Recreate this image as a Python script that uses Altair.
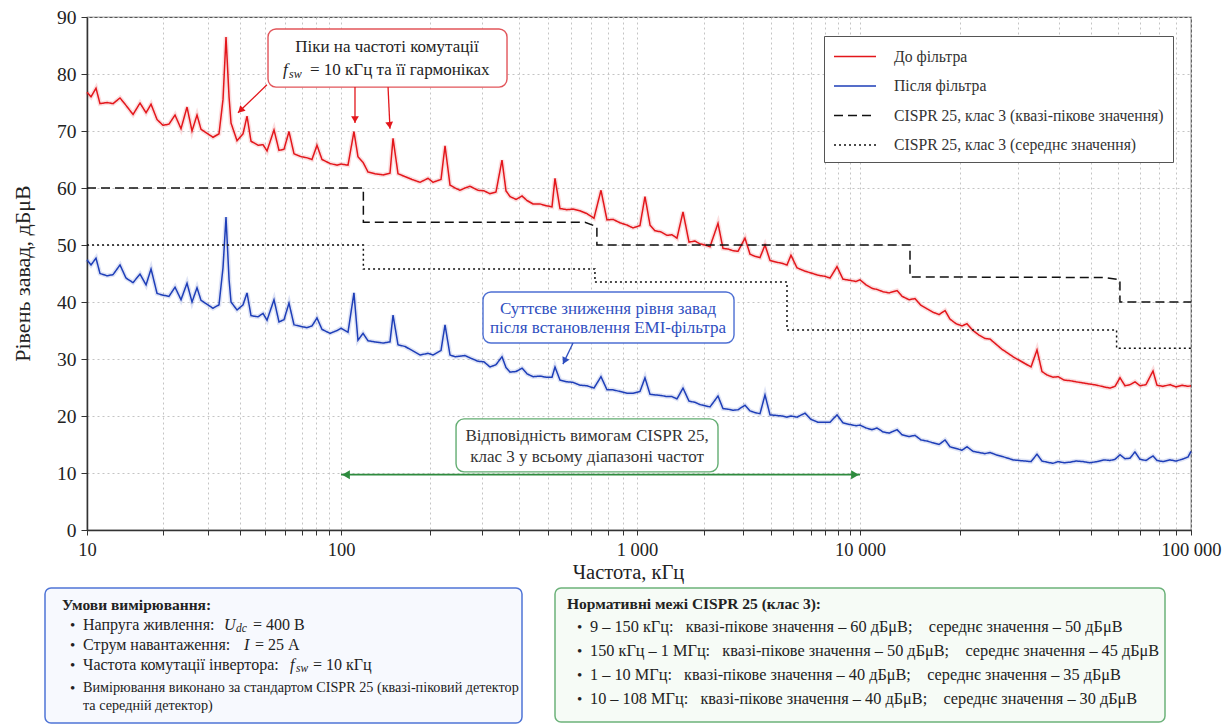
import math
import json
import altair as alt
import pandas as pd

SERIF = "Liberation Serif"

# ---------------- data ----------------
freq_khz = [
    10.0, 10.37, 10.85, 11.25, 11.99, 12.66, 13.49, 14.24, 15.18, 16.17,
    17.08, 17.87, 18.87, 19.92, 21.03, 22.21, 23.45, 24.76, 25.91, 27.11,
    28.11, 29.68, 31.34, 33.09, 34.31, 35.26, 36.24, 36.9, 38.96, 41.14,
    42.66, 44.23, 47.13, 49.32, 51.14, 54.48, 57.0, 59.65, 62.41, 65.31,
    69.57, 73.46, 76.87, 80.44, 84.18, 90.5, 96.5, 100.0, 105.6, 110.6,
    114.1, 118.7, 123.4, 130.3, 138.7, 146.4, 149.9, 155.8, 164.5, 173.8,
    184.9, 196.8, 204.6, 217.7, 224.6, 233.5, 242.8, 252.4, 262.4, 272.8,
    290.3, 304.2, 318.7, 333.9, 349.9, 360.9, 372.4, 390.2, 408.8, 425.1,
    445.4, 470.3, 492.7, 516.2, 528.4, 549.3, 580.0, 607.7, 641.7, 677.6,
    715.5, 755.7, 791.7, 829.6, 876.1, 925.1, 969.3, 1031, 1086, 1144,
    1204, 1281, 1363, 1435, 1511, 1608, 1711, 1820, 1916, 2018,
    2125, 2308, 2430, 2559, 2695, 2838, 3050, 3212, 3382, 3561,
    3750, 3949, 4200, 4469, 4706, 4904, 5218, 5667, 6030, 6480,
    6966, 7337, 7887, 8390, 9020, 9596, 10000, 10430, 10870, 11260,
    11740, 12240, 12940, 13400, 14060, 14660, 15290, 15940, 16620, 17330,
    18070, 18700, 19500, 20330, 21050, 21950, 22880, 23860, 24700, 25760,
    26850, 28000, 28990, 30230, 31510, 32860, 34260, 35460, 36730, 38300,
    39650, 41340, 43100, 44950, 47190, 49540, 52000, 54610, 56930, 58940,
    61030, 63180, 65410, 67720, 70120, 73110, 76770, 78930, 82290, 86440,
    90090, 93930, 97930, 100000,
]
before_dbuv = [
    76.8, 76.0, 77.5, 74.8, 75.0, 74.8, 75.8, 74.5, 72.9, 74.9,
    73.2, 74.7, 72.0, 71.0, 71.2, 72.8, 70.4, 74.2, 70.0, 72.8,
    70.3, 69.6, 68.9, 69.5, 75.5, 86.5, 76.0, 71.4, 68.3, 69.5,
    72.6, 68.2, 67.5, 67.6, 66.5, 70.2, 66.6, 66.8, 69.9, 66.0,
    65.5, 65.3, 65.0, 67.5, 65.0, 64.3, 64.0, 64.2, 64.0, 69.9,
    65.5, 64.5, 62.8, 62.5, 62.3, 62.6, 68.7, 62.5, 62.0, 61.5,
    61.0, 61.7, 61.0, 61.5, 67.4, 60.5, 60.0, 59.6, 60.0, 60.3,
    59.6, 59.5, 59.0, 59.3, 64.9, 59.5, 58.5, 58.0, 58.6, 57.8,
    57.2, 57.2, 56.9, 56.7, 61.7, 56.4, 56.2, 56.3, 56.0, 55.5,
    54.7, 59.6, 54.4, 54.5, 53.9, 53.5, 53.0, 53.4, 58.5, 53.5,
    52.5, 52.3, 51.7, 51.8, 51.2, 55.8, 50.5, 50.7, 50.2, 50.0,
    49.7, 53.8, 49.4, 49.3, 49.0, 48.9, 51.2, 48.4, 48.0, 47.8,
    50.0, 47.3, 47.0, 46.8, 46.5, 48.2, 46.0, 45.4, 45.1, 44.7,
    44.5, 44.2, 46.2, 44.0, 43.8, 43.6, 43.9, 43.0, 42.4, 42.2,
    41.8, 41.6, 42.0, 41.0, 40.4, 40.6, 39.4, 38.8, 38.2, 37.8,
    38.5, 37.0, 36.2, 35.8, 36.2, 35.0, 34.2, 33.6, 33.5, 32.6,
    31.7, 31.0, 30.4, 29.8, 29.2, 28.6, 31.6, 27.8, 27.2, 26.8,
    26.9, 26.3, 26.2, 26.0, 25.8, 25.6, 25.4, 25.1, 24.9, 25.2,
    26.7, 25.3, 25.5, 26.0, 25.3, 25.5, 27.9, 25.4, 25.2, 25.5,
    25.1, 25.4, 25.2, 25.3,
]
after_dbuv = [
    47.4, 46.5, 47.7, 45.0, 44.6, 44.8, 46.5, 44.2, 43.4, 44.9,
    43.0, 45.8, 41.5, 41.2, 41.0, 42.6, 40.4, 43.3, 40.0, 42.5,
    40.3, 39.6, 38.9, 39.5, 46.0, 54.9, 44.0, 40.0, 38.6, 39.5,
    41.6, 37.6, 37.4, 38.0, 36.8, 40.4, 36.5, 36.9, 39.8, 36.0,
    35.7, 35.5, 35.8, 37.2, 35.2, 34.5, 35.0, 35.4, 34.7, 41.6,
    33.3, 34.5, 33.2, 33.0, 32.8, 33.0, 37.7, 32.5, 32.2, 31.5,
    30.7, 31.0, 30.7, 31.5, 36.0, 30.7, 30.4, 30.5, 30.6, 30.2,
    29.6, 29.5, 28.6, 29.0, 30.4, 28.5, 27.7, 27.8, 28.4, 27.4,
    26.9, 27.0, 26.8, 26.8, 28.6, 26.3, 26.0, 25.9, 25.4, 25.3,
    24.9, 26.9, 24.6, 24.6, 24.3, 24.0, 24.0, 24.3, 26.7, 23.8,
    23.7, 23.6, 23.4, 23.4, 23.0, 24.9, 22.6, 22.4, 22.0, 21.8,
    21.6, 23.5, 21.3, 21.2, 21.0, 21.1, 21.9, 20.9, 20.6, 20.4,
    23.7, 20.2, 20.1, 20.0, 19.8, 20.0, 19.8, 20.5, 19.4, 18.9,
    18.9, 18.9, 20.2, 18.8, 18.5, 18.3, 18.4, 17.9, 17.6, 17.9,
    17.2, 17.0, 17.6, 16.7, 16.4, 16.6, 15.8, 15.6, 15.3, 15.0,
    15.8, 14.6, 14.3, 14.0, 14.6, 13.8, 13.6, 13.4, 13.6, 13.2,
    12.9, 12.6, 12.3, 12.2, 12.1, 12.0, 13.3, 12.1, 11.9, 11.7,
    12.0, 11.8, 11.9, 12.1, 12.0, 11.8, 12.0, 12.3, 12.2, 12.4,
    13.2, 12.5, 12.6, 13.7, 12.4, 12.2, 13.0, 12.2, 12.0, 12.3,
    12.1, 12.4, 12.8, 13.8,
]
qp_freq = [10, 119, 119, 667, 732, 732, 14160, 14160, 55000, 61000, 61000, 100000]
qp_level = [60, 60, 54, 54, 53.2, 50, 50, 44.4, 44.3, 43.9, 40, 40]
avg_freq = [10, 119, 119, 721, 721, 4706, 4706, 59600, 59600, 100000]
avg_level = [50, 50, 45.8, 45.8, 43.5, 43.5, 35.1, 35.1, 31.9, 31.9]

series_names = [
    "До фільтра",
    "Після фільтра",
    "CISPR 25, клас 3 (квазі-пікове значення)",
    "CISPR 25, клас 3 (середнє значення)",
]
tick_labels = ["10", "100", "1 000", "10 000", "100 000"]
y_ticks = [0, 10, 20, 30, 40, 50, 60, 70, 80, 90]

cond_title = "Умови вимірювання:"
cond_items = ["Напруга живлення:", "Струм навантаження:", "Частота комутації інвертора:"]
cond_math = [("U", "dc", "= 400 В"), ("I", "", "= 25 А"), ("f", "sw", "= 10 кГц")]
cond_note = ["Вимірювання виконано за стандартом CISPR 25 (квазі-піковий детектор",
             "та середній детектор)"]
lim_title = "Нормативні межі CISPR 25 (клас 3):"
lim_ranges = ["9 – 150 кГц", "150 кГц – 1 МГц", "1 – 10 МГц", "10 – 108 МГц"]
lim_qp = [60, 50, 40, 40]
lim_avg = [50, 45, 35, 30]

assert len(freq_khz) == len(before_dbuv) == len(after_dbuv)

# ---------------- styles ----------------
RED = "#e3161b"
BLUE = "#1e3eb8"
GREEN = "#2e8b3e"
series_colors = [RED, BLUE, "#111111", "#111111"]
series_dash = [[1, 0], [1, 0], [9, 5], [2, 3]]
series_width = [1.5, 1.5, 2.6, 2.1]

rows = []
for name, fs, vs in [(series_names[0], freq_khz, before_dbuv),
                     (series_names[1], freq_khz, after_dbuv),
                     (series_names[2], qp_freq, qp_level),
                     (series_names[3], avg_freq, avg_level)]:
    for i, (f, v) in enumerate(zip(fs, vs)):
        rows.append({"series": name, "f": f, "v": v, "i": i})
df = pd.DataFrame(rows)

LOGF = "log(datum.f) / LN10"
xs = alt.Scale(domain=[1, 2, 3, 4, 5], range=[0, 254, 550, 773, 1104], nice=False, zero=False)
ys = alt.Scale(domain=[0, 90], nice=False, zero=False)

minor_vals = [math.log10(k * 10 ** n) for n in range(1, 5) for k in range(1, 10)] + [5.0]
label_expr = ("abs(datum.value - round(datum.value)) < 0.001 ? "
              + json.dumps(tick_labels) + "[round(datum.value) - 1] : ''")

x_axis = alt.Axis(values=minor_vals, labelExpr=label_expr, grid=True, gridDash=[2, 3],
                  gridColor="#c4c4c4", gridWidth=1, tickSize=5, tickColor="#333",
                  domainColor="#333", domainWidth=1.5, labelFont=SERIF, labelFontSize=18.5,
                  labelColor="#222", labelPadding=5, labelOverlap=False, labelFlush=False,
                  title="Частота, кГц", titleFont=SERIF, titleFontSize=20.5,
                  titleFontWeight="normal", titleColor="#222", titleX=541, titleY=42,
                  titleBaseline="middle", titleAlign="center")
y_axis = alt.Axis(values=y_ticks, grid=True, gridDash=[2, 3], gridColor="#c4c4c4",
                  tickSize=6, tickColor="#333", domainColor="#333", domainWidth=1.5,
                  labelFont=SERIF, labelFontSize=19.5, labelColor="#222", labelPadding=5,
                  title="Рівень завад, дБμВ", titleFont=SERIF, titleFontSize=22,
                  titleFontWeight="normal", titleColor="#222", titleX=-65, titleY=256,
                  titleAngle=-90, titleBaseline="middle", titleAlign="center")


def X(field):
    return alt.X(field, scale=xs, axis=x_axis)


def Y(field):
    return alt.Y(field, scale=ys, axis=y_axis)


leg = alt.Legend(title=None, orient="none", legendX=737, legendY=19, direction="vertical",
                 strokeColor="#555", fillColor="white", padding=9, symbolType="M-1,0H3",
                 symbolSize=441, symbolStrokeWidth=2.4, labelFont=SERIF, labelFontSize=15.7,
                 labelColor="#333", labelOffset=38, rowPadding=9.5, labelLimit=400)


def glow(name, color):
    return alt.Chart(df[df.series == name]).transform_calculate(lf=LOGF).mark_line(
        color=color, strokeWidth=4.5, opacity=0.14).encode(
        x=X("lf:Q"), y=Y("v:Q"), order=alt.Order("i:Q"))


main = alt.Chart(df).transform_calculate(lf=LOGF).mark_line().encode(
    x=X("lf:Q"),
    y=Y("v:Q"),
    color=alt.Color("series:N", scale=alt.Scale(domain=series_names, range=series_colors), legend=leg),
    strokeDash=alt.StrokeDash("series:N", scale=alt.Scale(domain=series_names, range=series_dash), legend=leg),
    strokeWidth=alt.StrokeWidth("series:N", scale=alt.Scale(domain=series_names, range=series_width), legend=None),
    order=alt.Order("i:Q"),
)


def box(f0, f1, v0, v1, stroke, fill="white"):
    d = pd.DataFrame({"f0": [f0], "f1": [f1], "v0": [v0], "v1": [v1]})
    return alt.Chart(d).transform_calculate(
        l0="log(datum.f0) / LN10", l1="log(datum.f1) / LN10").mark_rect(
        fill=fill, stroke=stroke, strokeWidth=1.4, cornerRadius=8).encode(
        x=X("l0:Q"), x2="l1:Q", y=Y("v0:Q"), y2="v1:Q")


def label(f, v, text, color, size=17, dx=0, dy=0, align="center", style="normal"):
    d = pd.DataFrame({"f": [f], "v": [v]})
    return alt.Chart(d).transform_calculate(lf=LOGF).mark_text(
        text=text, font=SERIF, fontSize=size, color=color, align=align, baseline="middle",
        dx=dx, dy=dy, fontStyle=style).encode(x=X("lf:Q"), y=Y("v:Q"))


def arrow(f0, v0, f1, v1, color, angle, width=1.3, size=60):
    d = pd.DataFrame({"f0": [f0], "v0": [v0], "f1": [f1], "v1": [v1]})
    base = alt.Chart(d).transform_calculate(l0="log(datum.f0) / LN10", l1="log(datum.f1) / LN10")
    rad = math.radians(angle)
    ox, oy = -3.5 * math.sin(rad), 3.5 * math.cos(rad)
    ln = base.mark_rule(color=color, strokeWidth=width).encode(
        x=X("l0:Q"), x2="l1:Q", y=Y("v0:Q"), y2="v1:Q")
    hd = base.mark_point(shape="triangle-up", filled=True, color=color, opacity=1, size=size,
                         angle=angle, xOffset=ox, yOffset=oy).encode(x=X("l1:Q"), y=Y("v1:Q"))
    return [ln, hd]


annotations = []
# red call-out
annotations.append(box(51.6, 363.8, 87.9, 77.7, "#e2555a"))
annotations.append(label(143.0, 84.7, "Піки на частоті комутації", "#222"))
annotations.append(label(143.0, 80.7, "f", "#222", dx=-104, align="left", style="italic"))
annotations.append(label(143.0, 80.7, "sw", "#222", size=12, dx=-98, dy=4, align="left", style="italic"))
annotations.append(label(143.0, 80.7, "= 10 кГц та її гармоніках", "#222", dx=-77, align="left"))
annotations += arrow(51.1, 78.1, 39.3, 73.2, RED, 226)
annotations += arrow(111.5, 77.7, 111.5, 71.4, RED, 180)
annotations += arrow(144.2, 77.7, 146.4, 70.4, RED, 173)
# blue call-out
annotations.append(box(301.8, 2723, 41.75, 32.8, "#4d6fd3"))
annotations.append(label(798, 38.8, "Суттєве зниження рівня завад", "#2f4fbf"))
annotations.append(label(798, 35.4, "після встановлення EMI-фільтра", "#2f4fbf"))
annotations += arrow(608, 32.8, 562, 29.1, "#2f4fbf", 206)
# green call-out
annotations.append(box(244.7, 2308, 19.5, 10.2, "#63ad72"))
annotations.append(label(678, 16.5, "Відповідність вимогам CISPR 25,", "#333"))
annotations.append(label(678, 12.8, "клас 3 у всьому діапазоні частот", "#333"))
g = pd.DataFrame({"f0": [100], "f1": [10000], "v": [9.7]})
gbase = alt.Chart(g).transform_calculate(l0="log(datum.f0) / LN10", l1="log(datum.f1) / LN10")
annotations.append(gbase.mark_rule(color=GREEN, strokeWidth=1.8).encode(
    x=X("l0:Q"), x2="l1:Q", y=Y("v:Q")))
annotations.append(gbase.mark_point(shape="triangle-left", filled=True, color=GREEN, opacity=1,
                                    size=80, xOffset=5).encode(x=X("l0:Q"), y=Y("v:Q")))
annotations.append(gbase.mark_point(shape="triangle-right", filled=True, color=GREEN, opacity=1,
                                    size=80, xOffset=-5).encode(x=X("l1:Q"), y=Y("v:Q")))

# ---------------- bottom info boxes (page pixels) ----------------
OX, OY = 87, 17
one = pd.DataFrame({"k": [0]})


def px_rect(x0, y0, x1, y1, stroke, fill):
    return alt.Chart(one).mark_rect(stroke=stroke, fill=fill, strokeWidth=1.5, cornerRadius=6).encode(
        x=alt.value(x0 - OX), x2=alt.value(x1 - OX), y=alt.value(y0 - OY), y2=alt.value(y1 - OY))


def px_text(x, y, text, size=16, weight="normal", style="normal", color="#222", align="left"):
    return alt.Chart(one).mark_text(text=text, font=SERIF, fontSize=size, fontWeight=weight,
                                    fontStyle=style, color=color, align=align,
                                    baseline="middle").encode(
        x=alt.value(x - OX), y=alt.value(y - OY))


info = [px_rect(45, 588, 522, 723, "#4f74d6", "#f7f9fe"),
        px_rect(555, 588, 1165, 722, "#6cb27a", "#f6fbf6")]
info.append(px_text(62, 605, cond_title, size=15.5, weight="bold"))
cond_y = [625, 645, 665]
math_x = [(224, 236, 253), (244, 0, 255), (290, 296, 313)]
for yy, item, (sym, sub, rest), (mx, sx, rx) in zip(cond_y, cond_items, cond_math, math_x):
    info.append(px_text(70, yy, "•", size=15))
    info.append(px_text(83, yy, item, size=16))
    info.append(px_text(mx, yy, sym, size=16, style="italic"))
    if sub:
        info.append(px_text(sx, yy + 4, sub, size=11.5, style="italic"))
    info.append(px_text(rx, yy, rest, size=16))
info.append(px_text(70, 688, "•", size=15))
info.append(px_text(83, 688, cond_note[0], size=14.2))
info.append(px_text(83, 706, cond_note[1], size=14.2))

NB = "\u00a0"
info.append(px_text(567, 604, lim_title, size=15.5, weight="bold"))
for k, (rng, q, a) in enumerate(zip(lim_ranges, lim_qp, lim_avg)):
    yy = 627 + 24 * k
    row = (f"{rng}:{NB*3}квазі-пікове значення – {q} дБμВ;{NB*4}"
           f"середнє значення – {a} дБμВ")
    info.append(px_text(577, yy, "•", size=15))
    info.append(px_text(590, yy, row, size=16.3))

chart = alt.layer(
    glow(series_names[0], RED), glow(series_names[1], BLUE), main, *annotations, *info
).properties(
    width=1104, height=513,
    padding={"left": 87, "top": 17, "right": 34, "bottom": 195},
    autosize=alt.AutoSizeParams(type="none"),
    background="white",
).configure_view(stroke="#555", strokeWidth=1.2)

chart.save("out.html", embed_options={"renderer": "svg", "actions": False})
